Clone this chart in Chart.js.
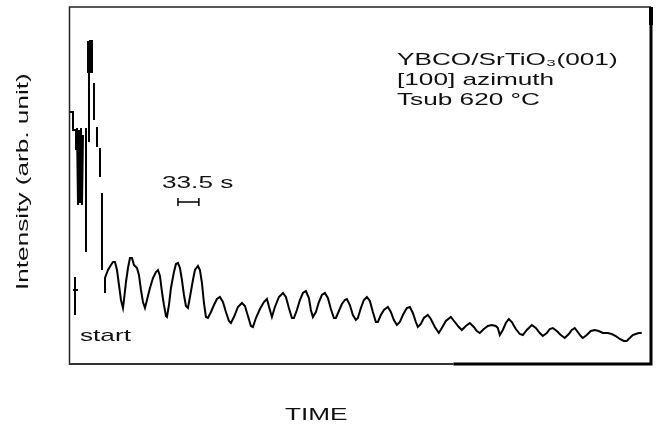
<!DOCTYPE html>
<html>
<head>
<meta charset="utf-8">
<script src="https://cdn.jsdelivr.net/npm/chart.js@4"></script>
<style>
  html, body { margin: 0; padding: 0; background: #fff; }
  canvas { display: block; }
</style>
</head>
<body>
<canvas id="chart" width="658" height="434"></canvas>
<script>
// RHEED intensity trace: time in s, intensity in arb. units (null = pen lifted)
const time = [
  0, 4.8, 4.8, 9.6, 9.6, 9.6,
  11.2, 12.8, 14.4, 16, 17.6, 19.2, 20.8, 20.8,
  25.6, 25.6, 25.6,
  28.8, 28.8, 32, 32, 35.2, 35.2, 30.4, 30.4, 30.4,
  38.4, 38.4, 38.4,
  43.2, 43.2, 43.2,
  48, 48, 48,
  51.2, 51.2, 51.2,
  56, 56, 60.8, 65.6, 68.8, 72, 75.2, 78.4, 81.6, 84.8, 86.4, 89.6, 92.8, 96, 99.2,
  102.4, 107.2, 110.4, 113.6, 116.8, 120, 123.2, 128, 132.8, 137.6, 140.8, 144, 147.2,
  150.4, 153.6, 155.2, 158.4, 161.6, 166.4, 169.6, 172.8, 176, 179.2, 182.4, 185.6,
  188.8, 192, 196.8, 200, 204.8, 208, 211.2, 214.4, 217.6, 220.8, 225.6, 230.4, 235.2,
  240, 244.8, 249.6, 254.4, 257.6, 262.4, 268.8, 275.2, 280, 284.8, 289.6, 292.8,
  297.6, 304, 310.4, 315.2, 320, 323.2, 328, 334.4, 340.8, 345.6, 350.4, 355.2, 358.4,
  363.2, 368, 372.8, 377.6, 382.4, 385.6, 388.8, 393.6, 398.4, 403.2, 408, 412.8,
  417.6, 422.4, 425.6, 430.4, 435.2, 440, 443.2, 448, 452.8, 457.6, 460.8, 465.6,
  470.4, 475.2, 480, 484.8, 489.6, 492.8, 497.6, 502.4, 508.8, 513.6, 518.4, 523.2,
  528, 532.8, 539.2, 544, 548.8, 553.6, 556.8, 561.6, 566.4, 572.8, 577.6, 584,
  590.4, 595.2, 601.6, 609.6, 616, 622.4, 627.2, 633.6, 640, 646.4, 651.2, 656,
  662.4, 668.8, 675.2, 681.6, 684.8, 688, 692.8, 697.6, 702.4, 707.2, 713.6, 720,
  724.8, 731.2, 739.2, 745.6, 752, 756.8, 763.2, 768, 772.8, 779.2, 785.6, 792,
  798.4, 803.2, 808, 812.8, 817.6, 820.8, 827.2, 833.6, 840, 846.4, 852.8, 860.8,
  867.2, 873.6, 880, 886.4, 891.2, 896, 900.8, 905.6, 910.4, 915.2
];
const intensity = [
  253, 253, 235, 235, 215, null,
  237, 160, 235, 162, 237, 160, 230, null,
  237, 113, null,
  324, 293, 293, 324, 324, 293, 293, 223, null,
  282, 245, null,
  238, 218, null,
  217, 188, null,
  172, 95, null,
  72, 87, 95, 100, 103, 103, 95, 80, 65, 57, 65, 83, 97, 107, 107,
  100, 97, 90, 75, 63, 57, 65, 77, 87, 93, 95, 89, 73,
  60, 49, 48, 60, 77, 93, 101, 102, 97, 85, 70, 59,
  57, 68, 85, 95, 99, 95, 82, 62, 48, 47, 53, 60, 66,
  68, 63, 53, 44, 42, 48, 58, 62, 59, 49, 39, 38,
  47, 56, 63, 66, 55, 48, 58, 68, 72, 68, 57, 47, 47,
  55, 65, 72, 74, 67, 55, 48, 53, 63, 70, 72, 67,
  56, 47, 47, 54, 61, 65, 66, 60, 50, 45, 47, 57,
  65, 68, 64, 53, 43, 43, 50, 55, 58, 53, 45, 40,
  43, 50, 57, 58, 52, 43, 38, 41, 47, 50, 46, 38,
  32, 37, 44, 48, 43, 38, 35, 39, 42, 38, 34, 32,
  36, 39, 40, 39, 37, 30, 35, 42, 46, 43, 36, 31,
  30, 35, 40, 37, 32, 29, 32, 36, 37, 34, 30, 27,
  31, 35, 37, 33, 29, 27, 30, 34, 35, 34, 32, 32,
  31, 29, 26, 24, 24, 27, 30, 31, 32, 32
];

// "start" marker
const startTime = [8, 8, null, 4.8, 12.8];
const startIntensity = [88, 50, null, 75, 75];

// 33.5 s scale bar
const barTime = [172.8, 172.8, 172.8, 206.3, 206.3, 206.3];
const barIntensity = [167, 159, 163, 163, 167, 159];

const infoLines = ['YBCO/SrTiO\u2083(001)', '[100] azimuth', 'Tsub 620 \u00b0C'];

const toPoints = (xs, ys) => xs.map((x, i) => ({ x: x, y: ys[i] }));

const FONT = '17px "Liberation Sans", Arial, sans-serif';
const STRETCH = 1.54;

function stretchedText(ctx, text, x, y, angle) {
  ctx.save();
  ctx.translate(x, y);
  if (angle) ctx.rotate(angle);
  ctx.scale(STRETCH, 1);
  ctx.fillText(text, 0, 0);
  ctx.restore();
}

// frame and annotations
const framePlugin = {
  id: 'frame',
  afterDraw(chart) {
    const { ctx, chartArea: a } = chart;
    ctx.save();
    ctx.strokeStyle = '#222';
    ctx.lineWidth = 1.5;
    ctx.beginPath();
    ctx.moveTo(a.left - 0.5, a.bottom);
    ctx.lineTo(a.left - 0.5, a.top);
    ctx.lineTo(a.right, a.top);
    ctx.stroke();
    // bottom edge: lighter on the left, heavy from about two thirds on
    const split = a.left + (a.right - a.left) * 0.66;
    ctx.strokeStyle = '#333';
    ctx.lineWidth = 2;
    ctx.beginPath();
    ctx.moveTo(a.left - 1, a.bottom - 1);
    ctx.lineTo(split, a.bottom - 1);
    ctx.stroke();
    ctx.strokeStyle = '#000';
    ctx.lineWidth = 3;
    ctx.beginPath();
    ctx.moveTo(a.right, a.top);
    ctx.lineTo(a.right, a.bottom - 1);
    ctx.lineTo(split, a.bottom - 1);
    ctx.stroke();
    ctx.fillStyle = '#000';
    ctx.fillRect(a.right - 2, a.top, 4, 18);

    ctx.fillStyle = '#111';
    ctx.font = FONT;
    ctx.textBaseline = 'alphabetic';
    ctx.textAlign = 'left';
    infoLines.forEach((t, i) => stretchedText(ctx, t, 397, 65 + i * 20));
    stretchedText(ctx, '33.5 s', 162, 188);
    stretchedText(ctx, 'start', 80, 341);
    stretchedText(ctx, 'TIME', 285, 420);
    stretchedText(ctx, 'Intensity (arb. unit)', 28, 290, -Math.PI / 2);
    ctx.restore();
  }
};

const lineStyle = {
  borderColor: '#000',
  borderWidth: 2,
  pointRadius: 0,
  tension: 0,
  fill: false,
  spanGaps: false
};

new Chart(document.getElementById('chart'), {
  type: 'line',
  data: {
    datasets: [
      Object.assign({ label: 'Intensity', data: toPoints(time, intensity) }, lineStyle),
      Object.assign({ label: 'start', data: toPoints(startTime, startIntensity) }, lineStyle),
      Object.assign({ label: '33.5 s', data: toPoints(barTime, barIntensity) }, lineStyle, { borderWidth: 1.5 })
    ]
  },
  options: {
    responsive: false,
    animation: false,
    devicePixelRatio: 1,
    layout: { padding: { left: 70, top: 7, right: 7, bottom: 69 } },
    plugins: { legend: { display: false }, tooltip: { enabled: false } },
    scales: {
      x: { type: 'linear', min: 0, max: 930, display: false },
      y: { type: 'linear', min: 0, max: 358, display: false }
    }
  },
  plugins: [framePlugin]
});
</script>
</body>
</html>
